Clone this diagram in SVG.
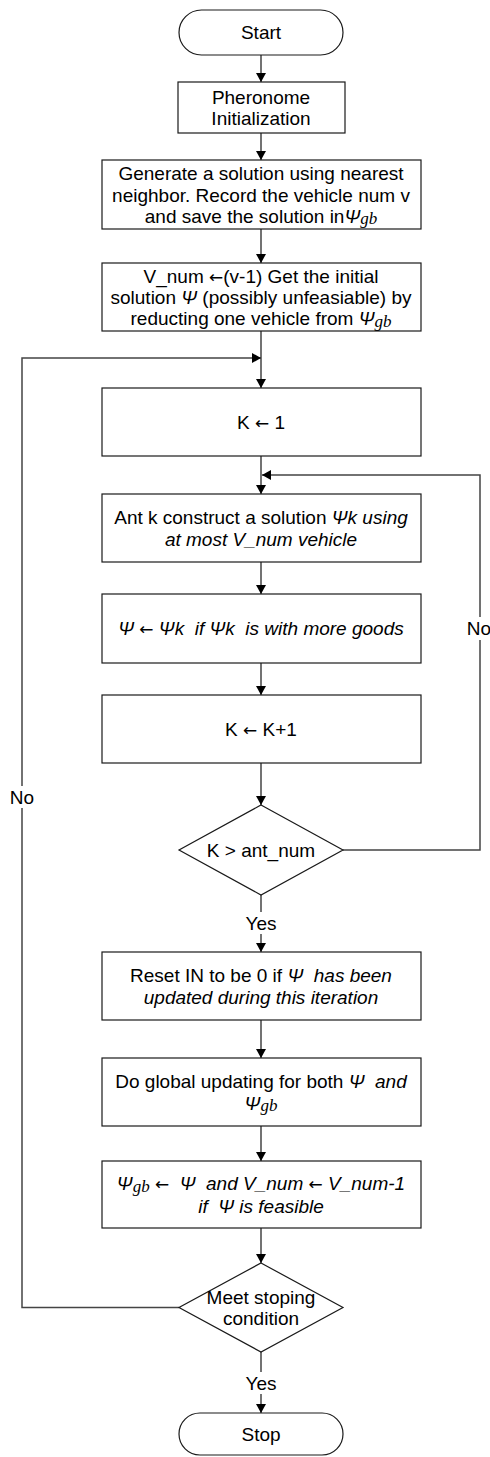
<svg xmlns="http://www.w3.org/2000/svg" width="490" height="1457" viewBox="0 0 490 1457">
<style>
.box{fill:#fff;stroke:#1a1a1a;stroke-width:1.2}
.ln{fill:none;stroke:#444;stroke-width:1.5}
.t{font-family:"Liberation Sans",Arial,sans-serif;font-size:19px;fill:#000;text-anchor:middle}
.lbl{font-family:"Liberation Sans",Arial,sans-serif;font-size:19px;fill:#000;text-anchor:middle}
.i{font-style:italic}
.ar{font-family:"DejaVu Sans",sans-serif;font-size:17px}
.sub{font-family:"Liberation Serif","Times New Roman",serif;font-style:italic;font-size:17px}
</style>
<defs>
<marker id="ah" viewBox="0 0 9 10" refX="9" refY="5" markerWidth="9" markerHeight="10" markerUnits="userSpaceOnUse" orient="auto">
<path d="M0,0 L9,5 L0,10 z" fill="#000"/>
</marker>
</defs>
<rect width="490" height="1457" fill="#fff"/>
<g id="connectors">
<line class="ln" x1="261" y1="55" x2="261" y2="82" marker-end="url(#ah)"/>
<line class="ln" x1="261" y1="133" x2="261" y2="160" marker-end="url(#ah)"/>
<line class="ln" x1="261" y1="229" x2="261" y2="263" marker-end="url(#ah)"/>
<line class="ln" x1="261" y1="331" x2="261" y2="388" marker-end="url(#ah)"/>
<line class="ln" x1="261" y1="456" x2="261" y2="494" marker-end="url(#ah)"/>
<line class="ln" x1="261" y1="562" x2="261" y2="594" marker-end="url(#ah)"/>
<line class="ln" x1="261" y1="663" x2="261" y2="695" marker-end="url(#ah)"/>
<line class="ln" x1="261" y1="763" x2="261" y2="805" marker-end="url(#ah)"/>
<line class="ln" x1="261" y1="895" x2="261" y2="912"/>
<line class="ln" x1="261" y1="934" x2="261" y2="952" marker-end="url(#ah)"/>
<line class="ln" x1="261" y1="1020" x2="261" y2="1058" marker-end="url(#ah)"/>
<line class="ln" x1="261" y1="1126" x2="261" y2="1161" marker-end="url(#ah)"/>
<line class="ln" x1="261" y1="1228" x2="261" y2="1263" marker-end="url(#ah)"/>
<line class="ln" x1="261" y1="1352" x2="261" y2="1372"/>
<line class="ln" x1="261" y1="1394" x2="261" y2="1413" marker-end="url(#ah)"/>
<polyline class="ln" points="343,850 480,850 480,640"/>
<polyline class="ln" points="480,617 480,475 262,475" marker-end="url(#ah)"/>
<polyline class="ln" points="179,1307.5 22,1307.5 22,808"/>
<polyline class="ln" points="22,786 22,358 261,358" marker-end="url(#ah)"/>
<text class="lbl" x="261" y="930">Yes</text>
<text class="lbl" x="261" y="1390">Yes</text>
<text class="lbl" x="22" y="804">No</text>
<text class="lbl" x="479" y="635">No</text>
</g>
<g id="start">
<rect class="box" x="179" y="10" width="164" height="45" rx="22.5" ry="22.5"/>
<text class="t" x="261" y="39">Start</text>
</g>
<g id="init">
<rect class="box" x="178" y="82" width="167" height="51"/>
<text class="t" x="261" y="103.5">Pheronome</text>
<text class="t" x="261" y="125">Initialization</text>
</g>
<g id="generate">
<rect class="box" x="102" y="160" width="319" height="69"/>
<text class="t" x="261" y="180">Generate a solution using nearest</text>
<text class="t" x="261" y="201.5">neighbor. Record the vehicle num v</text>
<text class="t" x="261" y="222.5">and save the solution in<tspan class="i">Ψ</tspan><tspan class="sub" dy="1.5">gb</tspan></text>
</g>
<g id="vnum">
<rect class="box" x="102" y="263" width="319" height="68"/>
<text class="t" x="261" y="282.5">V_num <tspan class="ar">←</tspan>(v-1) Get the initial</text>
<text class="t" x="261" y="304">solution <tspan class="i">Ψ</tspan> (possibly unfeasiable) by</text>
<text class="t" x="261" y="325">reducting one vehicle from <tspan class="i">Ψ</tspan><tspan class="sub" dy="1.5">gb</tspan></text>
</g>
<g id="k1">
<rect class="box" x="102" y="388" width="319" height="68"/>
<text class="t" x="261" y="429">K <tspan class="ar">←</tspan> 1</text>
</g>
<g id="ant">
<rect class="box" x="102" y="494" width="319" height="68"/>
<text class="t" x="261" y="524">Ant k construct a solution <tspan class="i">Ψk using</tspan></text>
<text class="t i" x="261" y="545.5">at most V_num vehicle</text>
</g>
<g id="update">
<rect class="box" x="102" y="594" width="319" height="69"/>
<text class="t i" x="261" y="635" xml:space="preserve">Ψ <tspan class="ar">←</tspan> Ψk  if Ψk  is with more goods</text>
</g>
<g id="kinc">
<rect class="box" x="102" y="695" width="319" height="68"/>
<text class="t" x="261" y="736">K <tspan class="ar">←</tspan> K+1</text>
</g>
<g id="cond1">
<polygon class="box" points="261,805 343,850 261,895 179,850"/>
<text class="t" x="261" y="857">K &gt; ant_num</text>
</g>
<g id="reset">
<rect class="box" x="102" y="952" width="319" height="68"/>
<text class="t" x="261" y="982" xml:space="preserve">Reset IN to be 0 if <tspan class="i">Ψ  has been</tspan></text>
<text class="t i" x="261" y="1003.5">updated during this iteration</text>
</g>
<g id="global">
<rect class="box" x="102" y="1058" width="319" height="68"/>
<text class="t" x="261" y="1088" xml:space="preserve">Do global updating for both <tspan class="i">Ψ  and</tspan></text>
<text class="t" x="261" y="1109.5"><tspan class="i">Ψ</tspan><tspan class="sub" dy="1.5">gb</tspan></text>
</g>
<g id="best">
<rect class="box" x="102" y="1161" width="319" height="67"/>
<text class="t i" x="261" y="1190" xml:space="preserve">Ψ<tspan class="sub" dy="1.5">gb</tspan><tspan dy="-1.5"> <tspan class="ar">←</tspan>  Ψ  and V_num <tspan class="ar">←</tspan> V_num-1</tspan></text>
<text class="t i" x="261" y="1212.5" xml:space="preserve">if  Ψ is feasible</text>
</g>
<g id="cond2">
<polygon class="box" points="261,1263 343,1307.5 261,1352 179,1307.5"/>
<text class="t" x="261" y="1303.5">Meet stoping</text>
<text class="t" x="261" y="1325">condition</text>
</g>
<g id="stop">
<rect class="box" x="179" y="1413" width="164" height="42" rx="21" ry="21"/>
<text class="t" x="261" y="1441">Stop</text>
</g>
</svg>
